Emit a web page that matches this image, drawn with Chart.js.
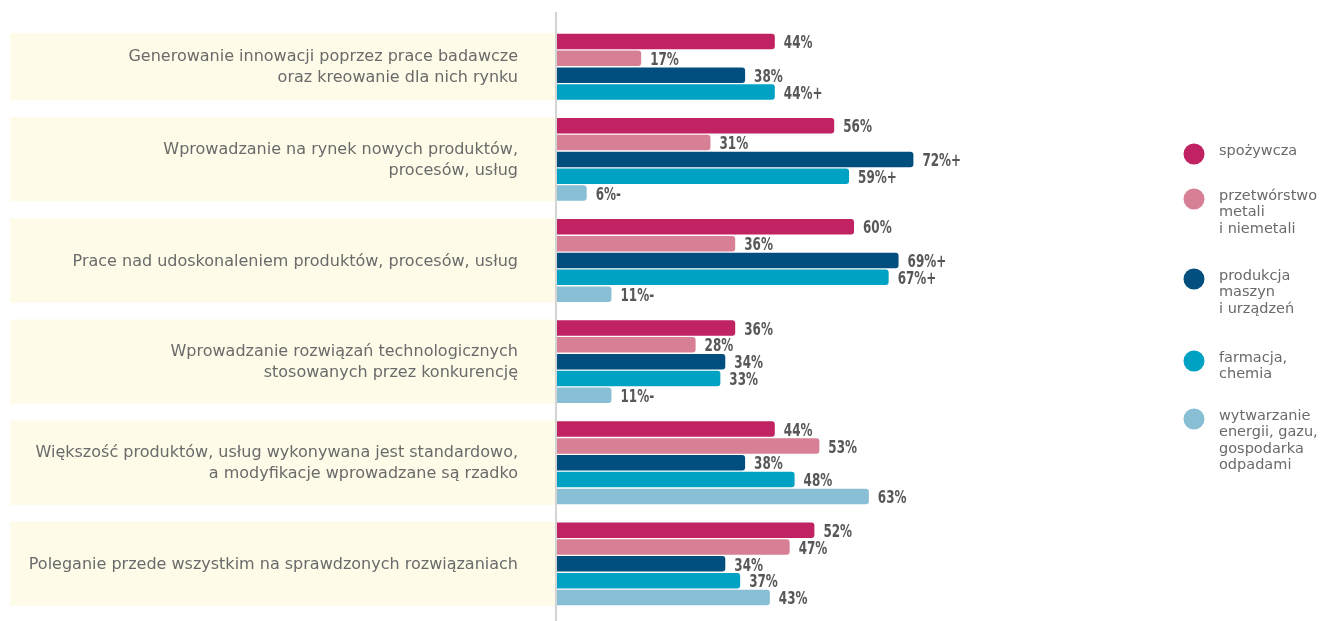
<!DOCTYPE html>
<html>
<head>
<meta charset="utf-8">
<script src="https://cdn.jsdelivr.net/npm/chart.js@4"></script>
<style>
  body { margin: 0; background: #fff; }
  canvas { display: block; }
</style>
</head>
<body>
<canvas id="chart" width="1325" height="621"></canvas>
<script>
const categories = [
    ['Generowanie innowacji poprzez prace badawcze', 'oraz kreowanie dla nich rynku'],
    ['Wprowadzanie na rynek nowych produktów,', 'procesów, usług'],
    ['Prace nad udoskonaleniem produktów, procesów, usług'],
    ['Wprowadzanie rozwiązań technologicznych', 'stosowanych przez konkurencję'],
    ['Większość produktów, usług wykonywana jest standardowo,', 'a modyfikacje wprowadzane są rzadko'],
    ['Poleganie przede wszystkim na sprawdzonych rozwiązaniach'],
];

const seriesNames = [
    ['spożywcza'],
    ['przetwórstwo', 'metali', 'i niemetali'],
    ['produkcja', 'maszyn', 'i urządzeń'],
    ['farmacja,', 'chemia'],
    ['wytwarzanie', 'energii, gazu,', 'gospodarka', 'odpadami'],
];
const seriesColors = ['#c02262', '#d67f95', '#024e7e', '#00a2c3', '#88bfd4'];

const spozywcza    = [44, 56, 60, 36, 44, 52];
const przetworstwo = [17, 31, 36, 28, 53, 47];
const produkcja    = [38, 72, 69, 34, 38, 34];
const farmacja     = [44, 59, 67, 33, 48, 37];
const energetyka   = [null, 6, 11, 11, 63, 43];

// significance markers shown after the percentage
const spozywczaSig    = ['', '', '', '', '', ''];
const przetworstwoSig = ['', '', '', '', '', ''];
const produkcjaSig    = ['', '+', '+', '', '', ''];
const farmacjaSig     = ['+', '+', '+', '', '', ''];
const energetykaSig   = ['', '-', '-', '-', '', ''];

const seriesValues = [spozywcza, przetworstwo, produkcja, farmacja, energetyka];
const seriesSig = [spozywczaSig, przetworstwoSig, produkcjaSig, farmacjaSig, energetykaSig];

// one row per bar, one empty row between groups
let rowCount = 0;
const groupRows = categories.map((c, g) => {
    if (g > 0) rowCount++;
    const rows = [];
    seriesValues.forEach((vals, s) => {
        if (vals[g] != null) rows[s] = rowCount++;
    });
    return rows;
});
const rowLabels = Array.from({length: rowCount}, (_, i) => String(i));

const datasets = seriesValues.map((vals, s) => {
    const data = Array(rowCount).fill(null);
    const sig = Array(rowCount).fill('');
    vals.forEach((v, g) => {
        if (v != null) {
            data[groupRows[g][s]] = v;
            sig[groupRows[g][s]] = seriesSig[s][g];
        }
    });
    return {
        label: seriesNames[s].join(' '),
        data: data,
        sig: sig,
        backgroundColor: seriesColors[s],
        borderRadius: 3,
        barPercentage: 0.92,
        categoryPercentage: 1,
        grouped: false,
    };
});

const textFont = '16px "DejaVu Sans", sans-serif';
const valueFont = 'bold 18px "DejaVu Sans Condensed", sans-serif';

const backdrop = {
    id: 'backdrop',
    beforeDatasetsDraw(chart) {
        const {ctx, scales: {y}} = chart;
        const half = y.height / rowCount / 2;
        ctx.save();
        groupRows.forEach((rows, g) => {
            const idx = rows.filter(r => r != null);
            const top = y.getPixelForValue(Math.min(...idx)) - half;
            const bottom = y.getPixelForValue(Math.max(...idx)) + half;
            ctx.fillStyle = '#fefbe8';
            ctx.fillRect(10, top, 545, bottom - top);
            ctx.fillStyle = '#6a6a6a';
            ctx.font = textFont;
            ctx.textAlign = 'right';
            ctx.textBaseline = 'middle';
            const lines = categories[g];
            const mid = (top + bottom) / 2 + 1;
            lines.forEach((line, i) => {
                ctx.fillText(line, 518, mid + (i - (lines.length - 1) / 2) * 21);
            });
        });
        ctx.fillStyle = '#d4d4d4';
        ctx.fillRect(555, 12, 2, chart.height - 12);
        ctx.restore();
    },
    afterDatasetsDraw(chart) {
        const {ctx} = chart;
        ctx.save();
        ctx.font = valueFont;
        ctx.fillStyle = '#575757';
        ctx.textAlign = 'left';
        ctx.textBaseline = 'middle';
        const squeeze = 0.74;
        chart.data.datasets.forEach((ds, i) => {
            chart.getDatasetMeta(i).data.forEach((bar, r) => {
                if (ds.data[r] == null) return;
                ctx.save();
                ctx.translate(bar.x + 9, bar.y + 2);
                ctx.scale(squeeze, 1);
                ctx.fillText(ds.data[r] + '%' + ds.sig[r], 0, 0);
                ctx.restore();
            });
        });
        // legend
        ctx.font = '14.5px "DejaVu Sans", sans-serif';
        const legendY = [154, 199, 279, 361, 419];
        seriesNames.forEach((lines, s) => {
            ctx.fillStyle = seriesColors[s];
            ctx.beginPath();
            ctx.arc(1194, legendY[s], 10.5, 0, Math.PI * 2);
            ctx.fill();
            ctx.fillStyle = '#6a6a6a';
            lines.forEach((line, i) => {
                ctx.fillText(line, 1219, legendY[s] - 3 + i * 16.5);
            });
        });
        ctx.restore();
    }
};

const chart = new Chart(document.querySelector('#chart'), {
    type: 'bar',
    data: {
        labels: rowLabels,
        datasets: datasets,
    },
    options: {
        indexAxis: 'y',
        responsive: false,
        animation: false,
        layout: {
            padding: {left: 557, right: 273, top: 33, bottom: 15}
        },
        scales: {
            x: {min: 0, max: 100, display: false},
            y: {display: false}
        },
        plugins: {
            legend: {display: false},
            tooltip: {enabled: false}
        }
    },
    plugins: [backdrop]
});
</script>
</body>
</html>
